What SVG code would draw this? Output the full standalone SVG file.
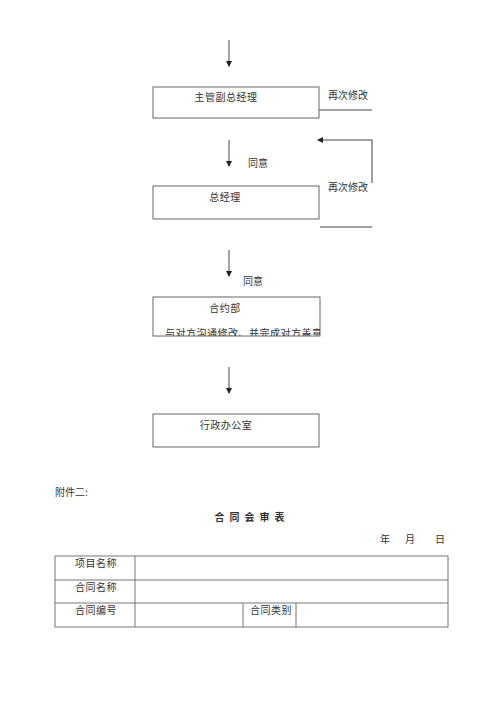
<svg xmlns="http://www.w3.org/2000/svg" width="500" height="707" viewBox="0 0 500 707">
<style>
text{font-family:"Noto Sans CJK SC","Liberation Sans",sans-serif;font-size:10px;fill:#333}
.box{fill:#fff;stroke:#666;stroke-width:1}
.ln{stroke:#444;stroke-width:1;fill:none}
.tb{stroke:#777;stroke-width:1;fill:none}
.mid{text-anchor:middle}
</style>
<defs>
<marker id="ah" markerWidth="6" markerHeight="6" refX="5" refY="3" orient="auto" markerUnits="userSpaceOnUse">
<path d="M0,0 L6,3 L0,6 z" fill="#222"/>
</marker>
<clipPath id="c3"><rect x="153" y="297" width="167" height="39"/></clipPath>
</defs>
<g id="connectors">
<line class="ln" x1="229" y1="40" x2="229" y2="66" marker-end="url(#ah)"/>
<line class="ln" x1="229" y1="140" x2="229" y2="166" marker-end="url(#ah)"/>
<line class="ln" x1="229" y1="250" x2="229" y2="276" marker-end="url(#ah)"/>
<line class="ln" x1="229" y1="367" x2="229" y2="393" marker-end="url(#ah)"/>
<line class="ln" x1="319" y1="110" x2="372" y2="110"/>
<polyline class="ln" points="372,183 372,140 318,140" marker-end="url(#ah)"/>
<line class="ln" x1="320" y1="227" x2="372" y2="227"/>
<text x="248" y="167">同意</text>
<text x="243" y="285">同意</text>
<text x="328" y="99">再次修改</text>
<text x="328" y="191">再次修改</text>
</g>
<g id="n1">
<rect class="box" x="153" y="87" width="166" height="31"/>
<text x="226" y="101" class="mid" letter-spacing="0.5">主管副总经理</text>
</g>
<g id="n2">
<rect class="box" x="153" y="186" width="166" height="33"/>
<text x="225" y="201" class="mid" letter-spacing="0.5">总经理</text>
</g>
<g id="n3">
<rect class="box" x="153" y="297" width="167" height="39"/>
<text x="225" y="312" class="mid" letter-spacing="0.5">合约部</text>
<text x="165" y="336.5" clip-path="url(#c3)" font-size="9.5" letter-spacing="0.5">与对方沟通修改、并完成对方盖章</text>
</g>
<g id="n4">
<rect class="box" x="153" y="414" width="166" height="33"/>
<text x="226" y="429" class="mid" letter-spacing="0.5">行政办公室</text>
</g>
<g id="form">
<text x="55" y="496">附件二:</text>
<text x="252" y="521" class="mid" font-weight="bold" letter-spacing="5">合同会审表</text>
<text x="380" y="543">年</text>
<text x="405" y="543">月</text>
<text x="435" y="543">日</text>
<rect class="tb" x="55" y="556" width="393" height="71"/>
<line class="tb" x1="55" y1="580" x2="448" y2="580"/>
<line class="tb" x1="55" y1="603" x2="448" y2="603"/>
<line class="tb" x1="135" y1="556" x2="135" y2="627"/>
<line class="tb" x1="243" y1="603" x2="243" y2="627"/>
<line class="tb" x1="296" y1="603" x2="296" y2="627"/>
<text x="75" y="567" letter-spacing="0.5">项目名称</text>
<text x="75" y="591" letter-spacing="0.5">合同名称</text>
<text x="75" y="614" letter-spacing="0.5">合同编号</text>
<text x="250" y="614" letter-spacing="0.5">合同类别</text>
</g>
</svg>
